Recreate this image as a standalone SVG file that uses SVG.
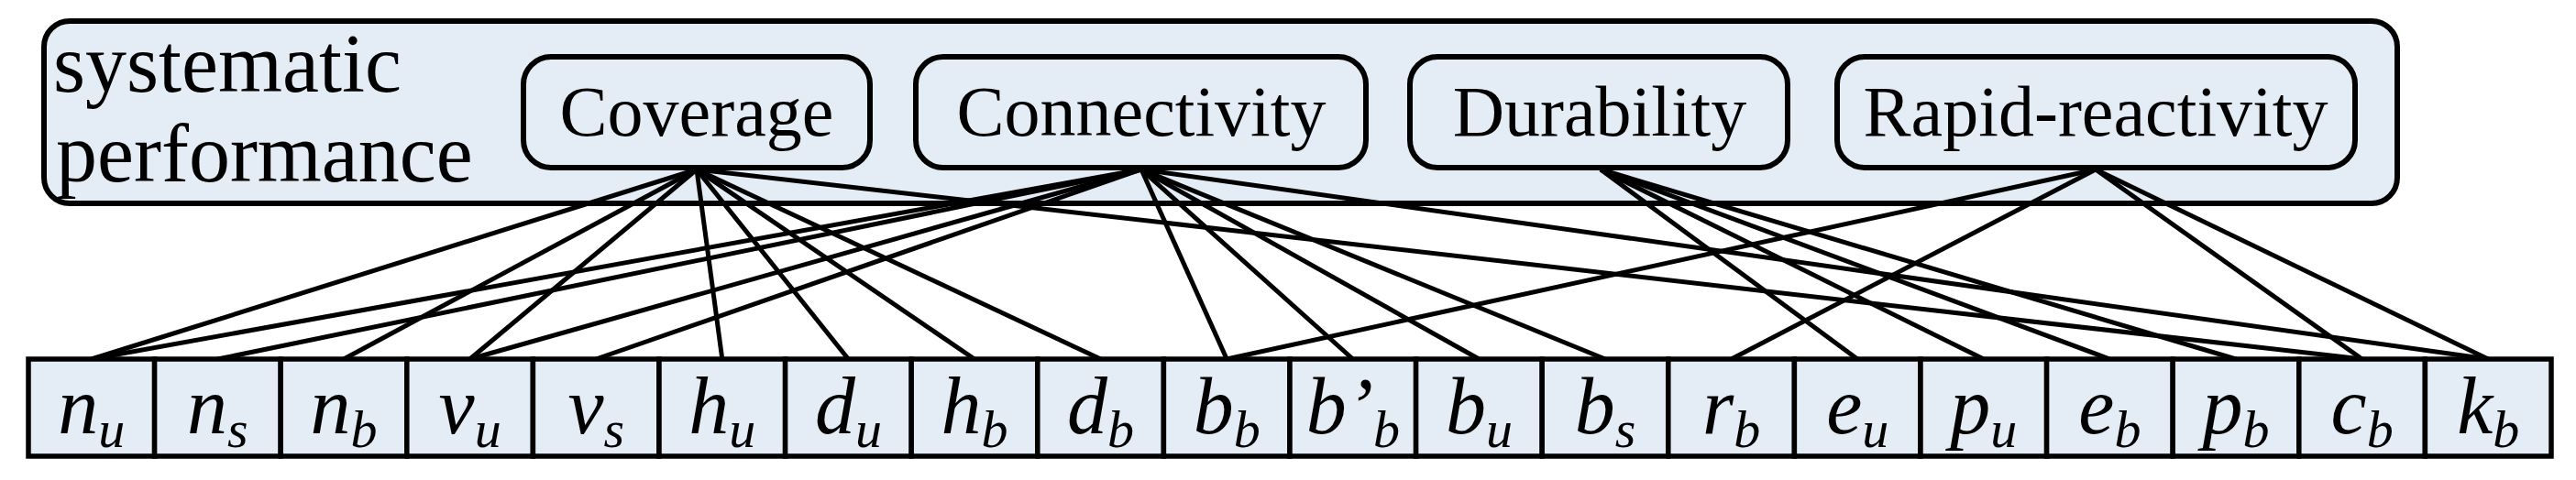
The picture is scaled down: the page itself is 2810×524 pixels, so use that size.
<svg xmlns="http://www.w3.org/2000/svg" width="2810" height="524" viewBox="0 0 2810 524">
<style>
.box{fill:#E4ECF6;stroke:#000;stroke-width:6}
.cell{fill:#E4ECF6;stroke:#000;stroke-width:5.5}
.t{font-family:'Liberation Serif','Times New Roman','DejaVu Serif',serif;fill:#000}
.cat{font-size:78px;text-anchor:middle}
.big{font-size:90px}
.leaf{font-family:'Liberation Serif','Times New Roman','DejaVu Serif',serif;font-style:italic;font-size:88px;text-anchor:middle;fill:#000}
.sub{font-size:58px}
.edges line{stroke:#000;stroke-width:5}
</style>
<rect width="2810" height="524" fill="#fff"/>
<g id="systematic-performance">
<rect class="box" x="48" y="23" width="2567" height="199" rx="28"/>
<text class="t big" x="58" y="100">systematic</text>
<text class="t big" x="61" y="198">performance</text>
</g>
<g id="coverage"><rect class="box" x="571" y="62" width="378" height="121" rx="30"/><text class="t cat" x="760" y="148">Coverage</text></g>
<g id="connectivity"><rect class="box" x="999" y="62" width="491" height="121" rx="30"/><text class="t cat" x="1245" y="148">Connectivity</text></g>
<g id="durability"><rect class="box" x="1538" y="62" width="412" height="121" rx="30"/><text class="t cat" x="1745" y="148">Durability</text></g>
<g id="rapid-reactivity"><rect class="box" x="2004" y="62" width="565" height="121" rx="30"/><text class="t cat" x="2286" y="148">Rapid-reactivity</text></g>
<g class="edges" id="connectors">
<line x1="760" y1="185" x2="99.8" y2="392"/>
<line x1="760" y1="185" x2="375" y2="392"/>
<line x1="760" y1="185" x2="512.6" y2="392"/>
<line x1="760" y1="185" x2="787.8" y2="392"/>
<line x1="760" y1="185" x2="925.4" y2="392"/>
<line x1="760" y1="185" x2="1063" y2="392"/>
<line x1="760" y1="185" x2="1200.6" y2="392"/>
<line x1="760" y1="185" x2="2576.6" y2="392"/>
<line x1="1245" y1="185" x2="99.8" y2="392"/>
<line x1="1245" y1="185" x2="237.4" y2="392"/>
<line x1="1245" y1="185" x2="512.6" y2="392"/>
<line x1="1245" y1="185" x2="650.2" y2="392"/>
<line x1="1245" y1="185" x2="1338.2" y2="392"/>
<line x1="1245" y1="185" x2="1475.8" y2="392"/>
<line x1="1245" y1="185" x2="1613.4" y2="392"/>
<line x1="1245" y1="185" x2="1751" y2="392"/>
<line x1="1245" y1="185" x2="2714.2" y2="392"/>
<line x1="1746" y1="185" x2="2026.2" y2="392"/>
<line x1="1746" y1="185" x2="2163.8" y2="392"/>
<line x1="1746" y1="185" x2="2301.4" y2="392"/>
<line x1="1746" y1="185" x2="2439" y2="392"/>
<line x1="2286" y1="185" x2="1338.2" y2="392"/>
<line x1="2286" y1="185" x2="1888.6" y2="392"/>
<line x1="2286" y1="185" x2="2576.6" y2="392"/>
<line x1="2286" y1="185" x2="2714.2" y2="392"/>
</g>
<g id="n_u"><rect class="cell" x="31" y="392" width="137.6" height="106"/><text class="leaf" x="99.8" y="473">n<tspan class="sub" dy="15">u</tspan></text></g>
<g id="n_s"><rect class="cell" x="168.6" y="392" width="137.6" height="106"/><text class="leaf" x="237.4" y="473">n<tspan class="sub" dy="15">s</tspan></text></g>
<g id="n_b"><rect class="cell" x="306.2" y="392" width="137.6" height="106"/><text class="leaf" x="375" y="473">n<tspan class="sub" dy="15">b</tspan></text></g>
<g id="v_u"><rect class="cell" x="443.8" y="392" width="137.6" height="106"/><text class="leaf" x="512.6" y="473">v<tspan class="sub" dy="15">u</tspan></text></g>
<g id="v_s"><rect class="cell" x="581.4" y="392" width="137.6" height="106"/><text class="leaf" x="650.2" y="473">v<tspan class="sub" dy="15">s</tspan></text></g>
<g id="h_u"><rect class="cell" x="719" y="392" width="137.6" height="106"/><text class="leaf" x="787.8" y="473">h<tspan class="sub" dy="15">u</tspan></text></g>
<g id="d_u"><rect class="cell" x="856.6" y="392" width="137.6" height="106"/><text class="leaf" x="925.4" y="473">d<tspan class="sub" dy="15">u</tspan></text></g>
<g id="h_b"><rect class="cell" x="994.2" y="392" width="137.6" height="106"/><text class="leaf" x="1063" y="473">h<tspan class="sub" dy="15">b</tspan></text></g>
<g id="d_b"><rect class="cell" x="1131.8" y="392" width="137.6" height="106"/><text class="leaf" x="1200.6" y="473">d<tspan class="sub" dy="15">b</tspan></text></g>
<g id="b_b"><rect class="cell" x="1269.4" y="392" width="137.6" height="106"/><text class="leaf" x="1338.2" y="473">b<tspan class="sub" dy="15">b</tspan></text></g>
<g id="b-prime_b"><rect class="cell" x="1407" y="392" width="137.6" height="106"/><text class="leaf" x="1475.8" y="473">b’<tspan class="sub" dy="15">b</tspan></text></g>
<g id="b_u"><rect class="cell" x="1544.6" y="392" width="137.6" height="106"/><text class="leaf" x="1613.4" y="473">b<tspan class="sub" dy="15">u</tspan></text></g>
<g id="b_s"><rect class="cell" x="1682.2" y="392" width="137.6" height="106"/><text class="leaf" x="1751" y="473">b<tspan class="sub" dy="15">s</tspan></text></g>
<g id="r_b"><rect class="cell" x="1819.8" y="392" width="137.6" height="106"/><text class="leaf" x="1888.6" y="473">r<tspan class="sub" dy="15">b</tspan></text></g>
<g id="e_u"><rect class="cell" x="1957.4" y="392" width="137.6" height="106"/><text class="leaf" x="2026.2" y="473">e<tspan class="sub" dy="15">u</tspan></text></g>
<g id="p_u"><rect class="cell" x="2095" y="392" width="137.6" height="106"/><text class="leaf" x="2163.8" y="473">p<tspan class="sub" dy="15">u</tspan></text></g>
<g id="e_b"><rect class="cell" x="2232.6" y="392" width="137.6" height="106"/><text class="leaf" x="2301.4" y="473">e<tspan class="sub" dy="15">b</tspan></text></g>
<g id="p_b"><rect class="cell" x="2370.2" y="392" width="137.6" height="106"/><text class="leaf" x="2439" y="473">p<tspan class="sub" dy="15">b</tspan></text></g>
<g id="c_b"><rect class="cell" x="2507.8" y="392" width="137.6" height="106"/><text class="leaf" x="2576.6" y="473">c<tspan class="sub" dy="15">b</tspan></text></g>
<g id="k_b"><rect class="cell" x="2645.4" y="392" width="137.6" height="106"/><text class="leaf" x="2714.2" y="473">k<tspan class="sub" dy="15">b</tspan></text></g>
</svg>
